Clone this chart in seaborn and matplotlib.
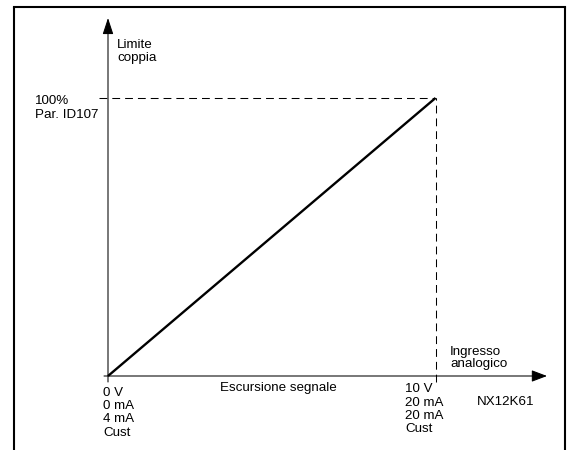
import matplotlib
matplotlib.use("Agg")
import matplotlib.pyplot as plt
from matplotlib.lines import Line2D
import seaborn as sns
import pandas as pd

# ---- data ----
signal = [0, 10]          # analog input (V), start -> end of signal range
torque = [0, 100]         # torque limit (% of Par. ID107)
x_start_labels = ["0 V", "0 mA", "4 mA", "Cust"]
x_end_labels = ["10 V", "20 mA", "20 mA", "Cust"]
y_top_labels = ["100%", "Par. ID107"]
y_axis_title = ["Limite", "coppia"]
x_axis_title = ["Ingresso", "analogico"]
x_mid_title = "Escursione segnale"
code_label = "NX12K61"

sns.set_theme(style="white")
plt.rcParams["font.family"] = ["Liberation Sans", "DejaVu Sans"]

W, H = 569, 450
fig = plt.figure(figsize=(W / 100, H / 100), dpi=100)
ax = fig.add_axes([0, 0, 1, 1])

# pixel layout of the data range
X0PX, X1PX = 108.0, 435.5   # x pixel of signal[0], signal[-1]
Y0PX, Y1PX = 376.0, 98.0    # y pixel (from top) of torque[0], torque[-1]
sx = (X1PX - X0PX) / (signal[-1] - signal[0])
sy = (Y0PX - Y1PX) / (torque[-1] - torque[0])


def px(p):
    return signal[0] + (p - X0PX) / sx


def py(p):
    return torque[0] + (Y0PX - p) / sy


ax.set_xlim(px(0), px(W))
ax.set_ylim(py(H), py(0))
ax.axis("off")

df = pd.DataFrame({"signal": signal, "torque": torque})
sns.lineplot(data=df, x="signal", y="torque", ax=ax, color="black",
             linewidth=1.7, solid_capstyle="butt")

# dashed guides
dash = dict(color="black", linewidth=0.75, linestyles=(0, (7.5, 4.8)))
ax.hlines(torque[-1], px(99), signal[-1], **dash)
ax.vlines(signal[-1], py(382), torque[-1], **dash)

# axes with arrows
ax.annotate("", xy=(signal[0], py(18)), xytext=(signal[0], py(382)),
            arrowprops=dict(arrowstyle="-|>,head_length=1.0,head_width=0.33",
                            mutation_scale=10, lw=0.75, color="black",
                            shrinkA=0, shrinkB=0))
ax.annotate("", xy=(px(547), torque[0]), xytext=(px(104), torque[0]),
            arrowprops=dict(arrowstyle="-|>,head_length=0.95,head_width=0.36",
                            mutation_scale=10, lw=0.75, color="black",
                            shrinkA=0, shrinkB=0))

FS = 9.6
tkw = dict(fontsize=FS, color="black", va="baseline")


def lines(xp, baselines, texts, ha="left"):
    for b, t in zip(baselines, texts):
        ax.text(px(xp), py(b), t, ha=ha, **tkw)


lines(117, [48.5, 60.5], y_axis_title)
lines(35, [104.5, 117.5], y_top_labels)
lines(103, [395.5, 409, 422.5, 436.5], x_start_labels)
lines(405, [392, 405.5, 419, 432.5], x_end_labels)
lines(450, [355, 367], x_axis_title)
lines(477, [405], [code_label])
lines(278, [391.5], [x_mid_title], ha="center")

# outer frame (open at the bottom)
fkw = dict(color="black", linewidth=1.5, transform=fig.transFigure)
fl, fr, ft = 13.5 / W, 564.5 / W, 1 - 7 / H
fig.add_artist(Line2D([fl, fl], [0, ft], **fkw))
fig.add_artist(Line2D([fr, fr], [0, ft], **fkw))
fig.add_artist(Line2D([fl, fr], [ft, ft], solid_capstyle="projecting", **fkw))

fig.savefig("out.png", dpi=100)
